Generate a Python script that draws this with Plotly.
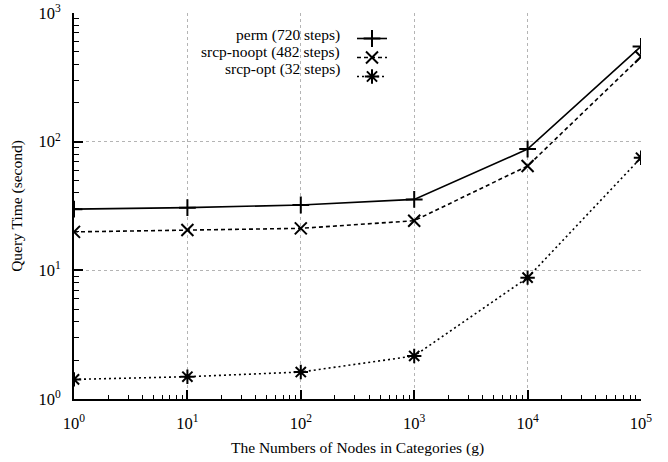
import plotly.graph_objects as go

nodes = [1, 10, 100, 1000, 10000, 100000]
perm = [29.9, 30.7, 32.2, 35.6, 87.6, 550]
srcp_noopt = [19.9, 20.6, 21.2, 24.3, 64.7, 457]
srcp_opt = [1.42, 1.49, 1.62, 2.16, 8.77, 75]

series_names = ["perm (720 steps)", "srcp-noopt (482 steps)", "srcp-opt (32 steps)"]
x_tickvals = [1, 10, 100, 1000, 10000, 100000]
x_ticktext = ["10<sup>0</sup>", "10<sup>1</sup>", "10<sup>2</sup>", "10<sup>3</sup>", "10<sup>4</sup>", "10<sup>5</sup>"]
y_tickvals = [1, 10, 100, 1000]
y_ticktext = ["10<sup>0</sup>", "10<sup>1</sup>", "10<sup>2</sup>", "10<sup>3</sup>"]

x_minor = [d * 10 ** e for e in range(5) for d in range(2, 10)]
y_minor = [d * 10 ** e for e in range(3) for d in range(2, 10)]

FONT = "Liberation Serif, Times New Roman, serif"

fig = go.Figure()
styles = [
    (perm, "solid", "cross-thin"),
    (srcp_noopt, "4px,3px", "x-thin"),
    (srcp_opt, "2px,3px", "asterisk"),
]
for (vals, dash, sym), name in zip(styles, series_names):
    fig.add_trace(go.Scatter(
        x=nodes, y=vals, mode="lines+markers", name="",
        line=dict(color="black", width=1.6, dash=dash),
        marker=dict(symbol=sym, size=12, color="black", line=dict(color="black", width=2)),
        showlegend=True,
    ))

L, R, T, B = 74, 27, 13, 63
W, H = 668, 462
pw, ph = W - L - R, H - T - B
rows_y = [35, 52, 69]
for name, ry in zip(series_names, rows_y):
    fig.add_annotation(
        x=(342 - L) / pw, y=1 - (ry - T) / ph, xref="paper", yref="paper",
        text=name, showarrow=False, xanchor="right", yanchor="middle",
        font=dict(family=FONT, size=15.5, color="black"),
    )

axis_common = dict(
    type="log", automargin=False,
    showline=True, linecolor="black", linewidth=2,
    ticks="inside", ticklen=9, tickwidth=1.5, tickcolor="black",
    showgrid=True, gridcolor="#b4b4b4", griddash="dot", gridwidth=1,
    zeroline=False, mirror=False,
    tickfont=dict(family=FONT, size=16.5, color="black"),
)

fig.update_xaxes(
    **axis_common, range=[0, 5], tickvals=x_tickvals, ticktext=x_ticktext, ticklabelstandoff=8,
    minor=dict(tickvals=x_minor, ticks="inside", ticklen=4, tickwidth=1.2, tickcolor="black", showgrid=False),
    title=dict(text="The Numbers of Nodes in Categories (g)", font=dict(family=FONT, size=15.5, color="black"), standoff=10),
)
fig.update_yaxes(
    **axis_common, range=[0, 3], tickvals=y_tickvals, ticktext=y_ticktext, ticklabelstandoff=8,
    minor=dict(tickvals=y_minor, ticks="inside", ticklen=5, tickwidth=1.2, tickcolor="black", showgrid=False),
    title=dict(text="Query Time (second)", font=dict(family=FONT, size=15.5, color="black"), standoff=12),
)

fig.update_layout(
    width=W, height=H,
    margin=dict(l=L, r=R, t=T, b=B, autoexpand=False),
    paper_bgcolor="white", plot_bgcolor="white",
    font=dict(family=FONT, color="black"),
    legend=dict(
        x=(352 - L) / pw, y=1 - (24 - T) / ph, xanchor="left", yanchor="top",
        bgcolor="rgba(0,0,0,0)", font=dict(family=FONT, size=9),
        itemwidth=30, tracegroupgap=0,
    ),
)

fig.write_html("out.html")
